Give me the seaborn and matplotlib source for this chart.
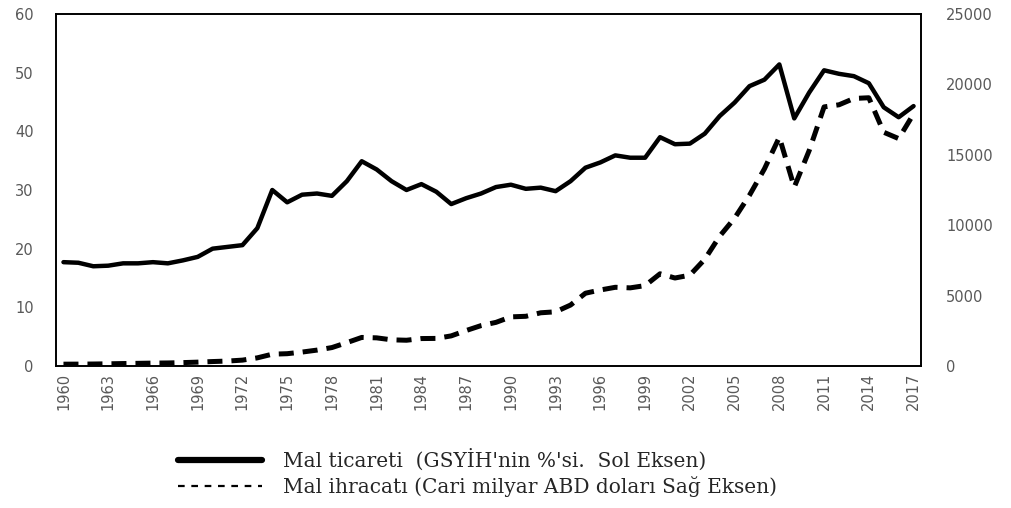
import numpy as np
import pandas as pd
import matplotlib
matplotlib.use('Agg')
import matplotlib.pyplot as plt
from matplotlib.lines import Line2D
import seaborn as sns

sns.set_style('white')

years = list(range(1960, 2018))
# Mal ticareti (% GSYIH), left axis
trade_gdp = [17.7, 17.6, 17.0, 17.1, 17.5, 17.5, 17.7, 17.5, 18.0, 18.6,
             20.0, 20.3, 20.6, 23.5, 30.0, 27.9, 29.2, 29.4, 29.0, 31.5,
             34.9, 33.5, 31.5, 30.0, 31.0, 29.7, 27.6, 28.6, 29.4, 30.5,
             30.9, 30.2, 30.4, 29.8, 31.5, 33.8, 34.7, 35.9, 35.5, 35.5,
             39.0, 37.8, 37.9, 39.6, 42.6, 44.9, 47.7, 48.8, 51.4, 42.2,
             46.6, 50.4, 49.8, 49.4, 48.2, 44.1, 42.4, 44.3]
# Mal ihracati (cari milyar ABD dolari), right axis
exports = [130, 134, 142, 156, 175, 190, 207, 217, 242, 275,
           317, 352, 418, 580, 840, 875, 990, 1130, 1310, 1660,
           2030, 2000, 1860, 1830, 1950, 1960, 2140, 2520, 2870, 3100,
           3490, 3530, 3780, 3850, 4330, 5170, 5400, 5590, 5550, 5710,
           6550, 6250, 6450, 7580, 9220, 10500, 12130, 14000, 16250, 12700,
           15300, 18400, 18550, 19000, 19050, 16600, 16150, 17900]

df = pd.DataFrame({'year': years, 'trade': trade_gdp, 'exports': exports})

fig = plt.figure(figsize=(10.11, 5.08), dpi=100)
ax = fig.add_axes([0.0554, 0.2795, 0.8556, 0.693])
ax2 = ax.twinx()

sns.lineplot(data=df, x='year', y='trade', ax=ax, color='black', linewidth=3.2)
sns.lineplot(data=df, x='year', y='exports', ax=ax2, color='black', linewidth=3.6,
             dashes=False)
ax2.lines[0].set_dashes([3.0, 1.8])

ax.set_xlim(1959.5, 2017.5)
ax.set_ylim(0, 60)
ax2.set_ylim(0, 25000)
ax.set_xlabel('')
ax.set_ylabel('')
ax2.set_ylabel('')

grey = '#595959'
ax.set_yticks(range(0, 61, 10))
ax2.set_yticks(range(0, 25001, 5000))
ax.tick_params(axis='y', length=0, labelsize=10.5, labelcolor=grey, pad=16)
ax2.tick_params(axis='y', length=0, labelsize=10.5, labelcolor=grey, pad=18)

ax.set_xticks(years[::3])
ax.set_xticklabels([str(y) for y in years[::3]], rotation=90,
                   family=['Liberation Sans Narrow', 'DejaVu Sans Condensed', 'DejaVu Sans'],
                   fontsize=10.5, color=grey)
ax.set_xticks(np.arange(1959.5, 2018, 1), minor=True)
ax.tick_params(axis='x', which='major', length=0, pad=5)
ax.tick_params(axis='x', which='minor', length=4, width=1.2, color='black', direction='out')

for a in (ax, ax2):
    for s in a.spines.values():
        s.set_color('black')
        s.set_linewidth(1.2)

handles = [Line2D([], [], color='black', linewidth=4.5),
           Line2D([], [], color='black', linewidth=1.6, dashes=(3, 3))]
labels = ["Mal ticareti  (GSYİH'nin %'si.  Sol Eksen)",
          "Mal ihracatı (Cari milyar ABD doları Sağ Eksen)"]
fig.legend(handles, labels, loc='upper left', bbox_to_anchor=(0.158, 0.152),
           frameon=False, handlelength=4.2, handletextpad=1.0, labelspacing=0.25,
           prop={'family': 'DejaVu Serif', 'size': 14.5})

fig.savefig('out.png', dpi=100)
